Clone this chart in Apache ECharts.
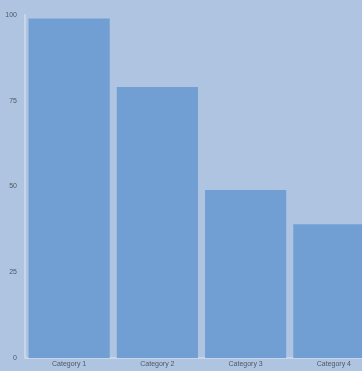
<!DOCTYPE html>
<html>
<head>
<meta charset="utf-8">
<script src="https://cdn.jsdelivr.net/npm/echarts@6/dist/echarts.min.js"></script>
<style>
html, body { margin: 0; padding: 0; background: #afc4e0; overflow: hidden; }
#main { width: 378px; height: 371px; }
</style>
</head>
<body>
<div id="main"></div>
<script>
var categories = ['Category 1', 'Category 2', 'Category 3', 'Category 4'];
var values = [99, 79, 49, 39];
var tickLabels = [0, 25, 50, 75, 100];

var myChart = echarts.init(document.getElementById('main'));
var option = {
    backgroundColor: '#afc4e0',
    grid: {
        left: 25,
        right: 0,
        top: 15,
        bottom: 13
    },
    xAxis: {
        type: 'category',
        data: categories,
        axisLine: { lineStyle: { color: '#c8d6ea', width: 2 } },
        axisTick: { show: false },
        axisLabel: { color: '#4d5866', fontSize: 7, margin: 3 }
    },
    yAxis: {
        type: 'value',
        min: tickLabels[0],
        max: tickLabels[tickLabels.length - 1],
        interval: 25,
        axisLine: { show: true, lineStyle: { color: '#c8d6ea', width: 2 } },
        axisTick: { show: false },
        splitLine: { show: false },
        axisLabel: { color: '#4d5866', fontSize: 7, margin: 8 }
    },
    series: [
        {
            type: 'bar',
            data: values,
            barCategoryGap: '8%',
            itemStyle: { color: '#729fd3' }
        }
    ]
};
myChart.setOption(option, true);
</script>
</body>
</html>
